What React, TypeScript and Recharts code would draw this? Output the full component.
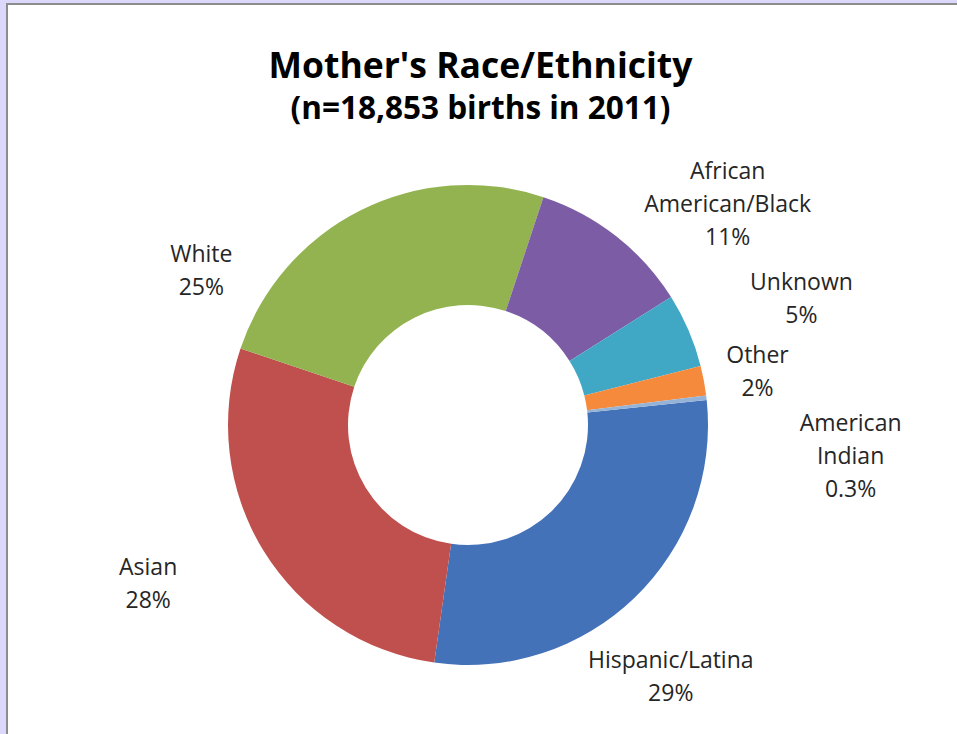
import { PieChart, Pie, Cell } from 'recharts'

// slices, clockwise starting just below 3 o'clock
const groups = ['Hispanic/Latina', 'Asian', 'White', 'African American/Black', 'Unknown', 'Other', 'American Indian']
const shares = [29, 28, 25, 11, 5, 2, 0.3]
const shareLabels = ['29%', '28%', '25%', '11%', '5%', '2%', '0.3%']
const nameLines = [
  ['Hispanic/Latina'],
  ['Asian'],
  ['White'],
  ['African', 'American/Black'],
  ['Unknown'],
  ['Other'],
  ['American', 'Indian'],
]

const colors = ['#4472b8', '#c0504d', '#92b34f', '#7d5ca6', '#40a8c4', '#f58a3c', '#95b3d7']

// where Excel's "best fit" put each label, polar from the pie centre
const labelPos = [
  { angle: -51.4, r: 325 },
  { angle: -153.3, r: 358 },
  { angle: 150.3, r: 307 },
  { angle: 40.2, r: 340 },
  { angle: 20.5, r: 356 },
  { angle: 10.0, r: 294 },
  { angle: -4.9, r: 384 },
]

const data = groups.map((g, i) => ({ name: g, value: shares[i] }))

const FONT = '"Open Sans", Lato, sans-serif'
const RAD = Math.PI / 180
const LINE = 33

function renderLabel(props: any) {
  const { cx, cy, index } = props
  const pos = labelPos[index]
  const x = cx + pos.r * Math.cos(pos.angle * RAD)
  const y = cy - pos.r * Math.sin(pos.angle * RAD)
  const lines = [...nameLines[index], shareLabels[index]]
  const top = y - ((lines.length - 1) * LINE) / 2 - 3
  return (
    <text
      x={x}
      y={top}
      textAnchor="middle"
      dominantBaseline="central"
      fontFamily={FONT}
      fontSize={23}
      fill="#262626"
    >
      {lines.map((l, i) => (
        <tspan key={i} x={x} y={top + i * LINE}>
          {l}
        </tspan>
      ))}
    </text>
  )
}

export default function App() {
  return (
    <div
      style={{
        position: 'absolute',
        left: 0,
        top: 0,
        width: 957,
        height: 734,
        background: '#dcd8fb',
        overflow: 'hidden',
      }}
    >
      <div
        style={{
          position: 'absolute',
          left: 6,
          top: 3,
          width: 957,
          height: 734,
          background: '#fff',
          borderLeft: '2px solid #8c8c8c',
          borderTop: '2px solid #8c8c8c',
        }}
      />
      <div
        style={{
          position: 'absolute',
          left: 0,
          top: 40,
          width: 957,
          textAlign: 'center',
          fontFamily: FONT,
          fontWeight: 700,
          color: '#000',
          paddingLeft: 2,
        }}
      >
        <div style={{ fontSize: 35.5, lineHeight: '48px' }}>Mother's Race/Ethnicity</div>
        <div style={{ fontSize: 31.5, lineHeight: '38px' }}>(n=18,853 births in 2011)</div>
      </div>
      <div style={{ position: 'absolute', left: 0, top: 0 }}>
        <PieChart width={957} height={734}>
          <Pie
            data={data}
            dataKey="value"
            nameKey="name"
            cx={463}
            cy={420}
            innerRadius={120}
            outerRadius={240}
            startAngle={6}
            endAngle={-354}
            stroke="none"
            label={renderLabel}
            labelLine={false}
            isAnimationActive={false}
          >
            {data.map((d, i) => (
              <Cell key={d.name} fill={colors[i]} />
            ))}
          </Pie>
        </PieChart>
      </div>
    </div>
  )
}
